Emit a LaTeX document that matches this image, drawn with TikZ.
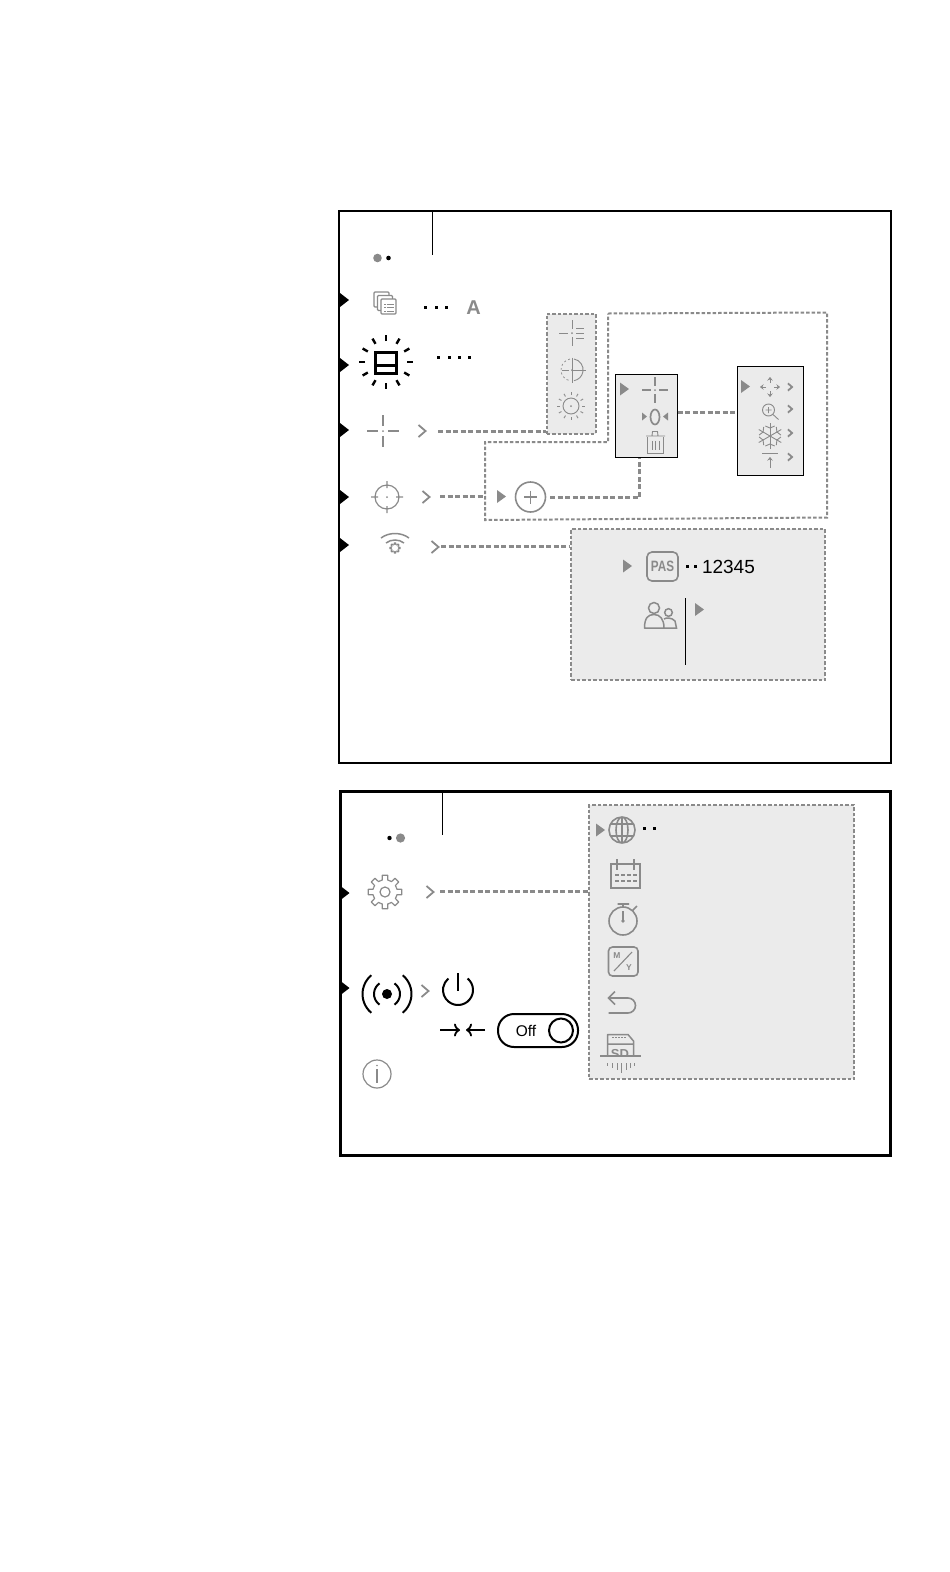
\documentclass[tikz,border=0pt]{standalone}
\usepackage{fontspec}
\setmainfont{Liberation Sans}
\usetikzlibrary{positioning}
\usetikzlibrary{arrows.meta}
\definecolor{icongray}{HTML}{8A8A8A}
\definecolor{panelgray}{HTML}{EBEBEB}
\tikzset{
  icon/.style={draw=icongray,line width=1.2pt},
  thinicon/.style={draw=icongray,line width=.9pt},
  tinyarrow/.style={thinicon,-{Stealth[length=3.5pt,width=5.5pt]}},
  openarrow/.style={line width=1.8pt,-{To[length=6pt,width=13pt]}},
  dashlink/.style={draw=icongray,line width=3pt,dash pattern=on 5pt off 2.5pt},
  dashpanel/.style={draw=icongray,line width=2pt,dash pattern=on 3.5pt off 2pt},
  panelbox/.style={rectangle,inner sep=0pt,fill=panelgray,line width=1pt},
  sidetri/.pic={\fill (0,-7) -- (9,0) -- (0,7) -- cycle;},
  graytri/.pic={\fill[icongray] (0,-6.5) -- (9,0) -- (0,6.5) -- cycle;},
  chevron/.pic={\draw[icon,line width=1.8pt] (-3.5*#1,-6*#1) -- (3.5*#1,0) -- (-3.5*#1,6*#1);},
  blackdot/.pic={\fill (-1.5,-1.5) rectangle (1.5,1.5);},
  crosshair/.pic={
    \draw[icon] (-#1,0) -- (-#1/3,0) (#1/3,0) -- (#1,0) (0,-#1) -- (0,-#1/3) (0,#1/3) -- (0,#1);
    \fill[icongray] (0,0) circle (1);},
  raysun/.pic={
    \draw[thinicon] (0,0) circle (8);
    \fill[icongray] (0,0) circle (1);
    \foreach \a in {0,30,...,330} \draw[thinicon] (\a:11) -- (\a:14);},
  gearwheel/.pic={
    \foreach \a in {0,45,...,315}
      \draw[icon,line join=round] (\a-22.5:#1*.72) -- (\a-13:#1*.72) -- (\a-9:#1) -- (\a+9:#1) -- (\a+13:#1*.72) -- (\a+22.5:#1*.72);},
}
\begin{document}
\begin{tikzpicture}[x=1pt,y=-1pt]
  \useasboundingbox (0,0) rectangle (950,1572);

  % top frame
  \draw[line width=2pt] (339,211) rectangle (890.5,762.5);
  \draw[line width=1pt] (432,212) -- (432,254.5);
  \fill[icongray] (377.5,258) circle (4.3);
  \fill (388.5,258) circle (2.3);
  \foreach \y in {300,365,430,497,545} \pic at (340,\y) {sidetri};

  % panels
  \node (sight) [panelbox,dashpanel,minimum width=49pt,minimum height=120pt] at (571,373.5) {};
  \draw[dashpanel] (608,313.5) -- (827,312.5) -- (827,517.5) -- (485,520) -- (485,442) -- (608,442) -- cycle;
  \node (zero) [panelbox,draw=black,minimum width=62pt,minimum height=83pt] at (646,415.5) {};
  \node (tools) [panelbox,draw=black,minimum width=66pt,minimum height=109pt] at (770,420.5) {};
  \node (wifi) [panelbox,dashpanel,minimum width=254pt,minimum height=151pt] at (698,604.5) {};

  % layers
  \foreach \d in {0,3.5,7} \draw[icon,fill=white,rounded corners=1pt] (374+\d,292+\d) rectangle (389+\d,307+\d);
  \draw[thinicon,dash pattern=on 1.5pt off 1pt on 6pt off 0pt] (384,304) -- (393,304) (384,307.5) -- (393,307.5) (384,311) -- (393,311);
  \foreach \x in {425,436,446} \pic at (\x,307) {blackdot};
  \node (auto) [text=icongray,font=\bfseries\fontsize{20}{20}\selectfont,inner sep=0pt] at (473.5,307.5) {A};

  % brightness
  \draw[line width=3pt] (375.5,352.5) rectangle (396.5,373) (375.5,365) -- (396.5,365);
  \foreach \a in {0,30,...,330} \draw[line width=2.4pt] ([shift={(386,362)}]\a:21) -- ([shift={(386,362)}]\a:27);
  \foreach \x in {438,449,459,469} \pic at (\x,357) {blackdot};

  % reticle row
  \pic at (383,431) {crosshair=16};
  \pic at (422,431) {chevron=1};
  \coordinate (linksight) at (438,431.5);
  \draw[dashlink] (linksight) -- (linksight -| sight.west);
  \draw[thinicon] (559,333) -- (568,333) (572,320) -- (572,329) (572,337) -- (572,346);
  \fill[icongray] (572,333) circle (1);
  \draw[thinicon] (576,328) -- (584,328) (576,333) -- (584,333) (576,338) -- (584,338);
  \draw[thinicon] (574,359) arc[start angle=-80,end angle=80,radius=11];
  \draw[thinicon] (572,357.5) -- (572,382.5) (572,370) -- (586,370);
  \draw[thinicon,line width=.7pt,dash pattern=on 2pt off 2.5pt] (570,359) arc[start angle=-100,end angle=-260,radius=11];
  \draw[thinicon,line width=.6pt] (562,370) -- (569,370);
  \fill[icongray] (572,370) circle (1);
  \pic at (571,406) {raysun};

  % zeroing panel
  \pic at (620,389) {graytri};
  \pic at (655,390) {crosshair=13};
  \draw[icon,line width=1.7pt] (655,417) ellipse (4.5 and 7.5);
  \fill[icongray] (642,412.5) -- (647,416.5) -- (642,420.5) -- cycle (668,412.5) -- (663,416.5) -- (668,420.5) -- cycle;
  \draw[thinicon] (646,436) -- (665,436) (652,436) -- (652.5,431.5) -- (657.5,431.5) -- (658,436);
  \draw[thinicon] (647.5,437) -- (647.5,453) -- (663,453) -- (663,437) (652,441) -- (652,450) (655.5,441) -- (655.5,450) (659,441) -- (659,450);

  % tools panel
  \pic at (741,386.5) {graytri};
  \draw[tinyarrow] (766,387) -- (760,387);
  \draw[tinyarrow] (774,387) -- (780,387);
  \draw[tinyarrow] (770,383) -- (770,377);
  \draw[tinyarrow] (770,391) -- (770,397);
  \draw[thinicon] (768.5,410) circle (6) (773,414.5) -- (778.5,419.5) (765.5,410) -- (771.5,410) (768.5,407) -- (768.5,413);
  \foreach \a in {30,90,150,210,270,330} {
    \draw[thinicon] (770,436) -- ([shift={(770,436)}]\a:13);
    \draw[thinicon] ([shift={(770,436)}]\a-25:11) -- ([shift={(770,436)}]\a:8) -- ([shift={(770,436)}]\a+25:11);
  }
  \draw[thinicon] (762,453) -- (778,453);
  \draw[tinyarrow] (770,468) -- (770,457);
  \pic at (790,387) {chevron=.6};
  \pic at (790,409) {chevron=.6};
  \pic at (790,433) {chevron=.6};
  \pic at (790,457) {chevron=.6};

  % add reticle row
  \draw[icon] (387,497) circle (12) (371,497) -- (378,497) (396,497) -- (403,497) (387,481) -- (387,488) (387,506) -- (387,513);
  \fill[icongray] (387,497) circle (1);
  \pic at (426,497) {chevron=1};
  \coordinate (linkadd) at (440,496.5);
  \coordinate (addbox) at (485,496.5);
  \draw[dashlink] (linkadd) -- (addbox);
  \pic at (497,496.5) {graytri};
  \node (addnew) [circle,draw=icongray,line width=1.6pt,minimum size=30pt,inner sep=0pt] at (530.5,497) {};
  \draw[icon,line width=1.6pt] (524,497) -- (537,497) (530.5,490.5) -- (530.5,503.5);
  \coordinate (bend) at (639,497.5);
  \draw[dashlink] (550,497.5) -- (bend) -- (bend |- zero.south);
  \draw[dashlink] (zero.east |- 0,412.5) -- (tools.west |- 0,412.5);

  % wifi row
  \draw[icon,line width=1.5pt] (381,538) .. controls (389,532) and (401,532) .. (409,538);
  \draw[icon,line width=1.5pt] (386,543) .. controls (391,539) and (399,539) .. (404,543);
  \pic at (395,548) {gearwheel=5};
  \pic at (435,547) {chevron=1};
  \coordinate (linkwifi) at (441,546.5);
  \draw[dashlink] (linkwifi) -- (linkwifi -| wifi.west);
  \pic at (623,566) {graytri};
  \node (pas) [draw=icongray,line width=1.6pt,rounded corners=5pt,minimum width=31pt,minimum height=29pt,inner sep=0pt] at (662.5,566.5) {};
  \node (pastext) [text=icongray,font=\bfseries\fontsize{15}{15}\selectfont,transform shape,xscale=.78,inner sep=0pt] at (662.5,566.5) {PAS};
  \foreach \x in {687,695} \pic at (\x,566) {blackdot};
  \node (passcode) [right=0pt of pas.east,xshift=23pt,yshift=-.5pt,font=\fontsize{19}{19}\selectfont,inner sep=0pt] {12345};
  \draw[icon,line width=1.5pt] (654,608) circle (5.5) (668.5,612.5) circle (3.8);
  \draw[icon,line width=1.5pt,line join=round] (644.5,628) .. controls (644.5,618) and (648,614.5) .. (654,614.5) .. controls (660,614.5) and (664,619) .. (664,628) -- cycle;
  \draw[icon,line width=1.5pt] (664,619) .. controls (666,617.5) and (672,617.5) .. (675,621) -- (676.5,628) -- (664,628);
  \draw[line width=1pt] (685.5,598) -- (685.5,665);
  \pic at (695,609.5) {graytri};

  % bottom frame
  \draw[line width=3pt] (340,791.5) rectangle (890.5,1155.5);
  \draw[line width=1pt] (442.5,792) -- (442.5,835);
  \fill (389.5,838) circle (2.2);
  \fill[icongray] (400.5,838) circle (4.6);
  \foreach \y in {893,988} \pic at (340.5,\y) {sidetri};

  % settings panel
  \node (general) [panelbox,dashpanel,minimum width=265pt,minimum height=274pt] at (721.5,942) {};
  \pic at (385,892) {gearwheel=17};
  \draw[icon] (385,892) circle (5);
  \pic at (430,892) {chevron=1};
  \coordinate (linkgeneral) at (440,891.5);
  \draw[dashlink] (linkgeneral) -- (linkgeneral -| general.west);

  % signal row
  \fill (387,994) circle (5);
  \draw[line width=2pt] ([shift={(387,994)}]125:13) arc[start angle=125,end angle=235,radius=13];
  \draw[line width=2pt] ([shift={(387,994)}]-55:13) arc[start angle=-55,end angle=55,radius=13];
  \draw[line width=2pt] ([shift={(387,994)}]130:24.5) arc[start angle=130,end angle=230,radius=24.5];
  \draw[line width=2pt] ([shift={(387,994)}]-50:24.5) arc[start angle=-50,end angle=50,radius=24.5];
  \pic at (425,991) {chevron=1};
  \draw[line width=2pt] ([shift={(458,990)}]-50:15) arc[start angle=-50,end angle=230,radius=15];
  \draw[line width=2pt] (458,973) -- (458,991);
  \coordinate (inleft) at (440,1030);
  \coordinate (inright) at (485,1030);
  \draw[openarrow] (inleft) -- (460,1030);
  \draw[openarrow] (inright) -- (466,1030);
  \node (switch) [draw,line width=2pt,rounded corners=16pt,minimum width=80pt,minimum height=33pt,inner sep=0pt] at (538,1030.5) {};
  \node (offlabel) [font=\fontsize{15.5}{15.5}\selectfont,inner sep=0pt] at (526,1031) {Off};
  \draw[line width=2pt] (561,1030.5) circle (12);

  % info
  \draw[icon] (377,1074) circle (14);
  \draw[icon] (377,1069) -- (377,1083);
  \fill[icongray] (377,1065.5) circle (.9);

  % settings icons
  \pic at (596,830) {graytri};
  \draw[icon,line width=1.6pt] (622,830) circle (13) (622,830) ellipse (6 and 13) (622,817) -- (622,843) (610,824) -- (634,824) (610,836) -- (634,836);
  \foreach \x in {644,654} \pic at (\x,828) {blackdot};
  \draw[icon,line width=1.6pt] (611,864) rectangle (640,888) (617,859) -- (617,870) (634,859) -- (634,870);
  \draw[icon,dash pattern=on 3.5pt off 2.5pt] (615,875) -- (637,875) (615,881) -- (637,881);
  \draw[icon,line width=1.6pt] (623,921) circle (14) (617.5,904) -- (629,904) (623,904) -- (623,907) (633,910) -- (637,906);
  \draw[icon] (623,911) -- (623,921);
  \fill[icongray] (623,921) circle (1.8);
  \draw[icon,line width=1.6pt,rounded corners=4pt] (608.5,947) rectangle (638,976);
  \draw[icon,line width=1.1pt] (614,971) -- (632,952);
  \node (monthmark) [text=icongray,font=\bfseries\fontsize{8.5}{8.5}\selectfont,inner sep=0pt] at (617,956) {M};
  \node (yearmark) [text=icongray,font=\bfseries\fontsize{8.5}{8.5}\selectfont,inner sep=0pt] at (629,968) {Y};
  \draw[icon,line width=1.6pt] (615,991.5) -- (608.5,998) -- (615,1004.5) (608.5,998) -- (628,998) arc[start angle=-90,end angle=90,radius=7.5] -- (608.5,1013);
  \begin{scope}
    \clip (600,1030) rectangle (642,1056);
    \node (sdlabel) [text=icongray,font=\bfseries\fontsize{13}{13}\selectfont,inner sep=0pt] at (620,1054.5) {SD};
  \end{scope}
  \draw[icon,line width=1.5pt,line join=round] (607.5,1056) -- (607.5,1034.5) -- (628,1034.5) -- (633.5,1041) -- (633.5,1056) (607.5,1044) -- (633.5,1044);
  \draw[thinicon,dash pattern=on 2pt off 1pt] (612,1037) -- (626,1037);
  \draw[icon,line width=1.5pt] (600,1056) -- (641,1056);
  \draw[thinicon] (607,1063) -- (607,1066) (612,1063) -- (612,1068) (617,1063) -- (617,1070) (621,1063) -- (621,1073) (626,1063) -- (626,1070) (630,1063) -- (630,1068) (634,1063) -- (634,1066);
\end{tikzpicture}
\end{document}
